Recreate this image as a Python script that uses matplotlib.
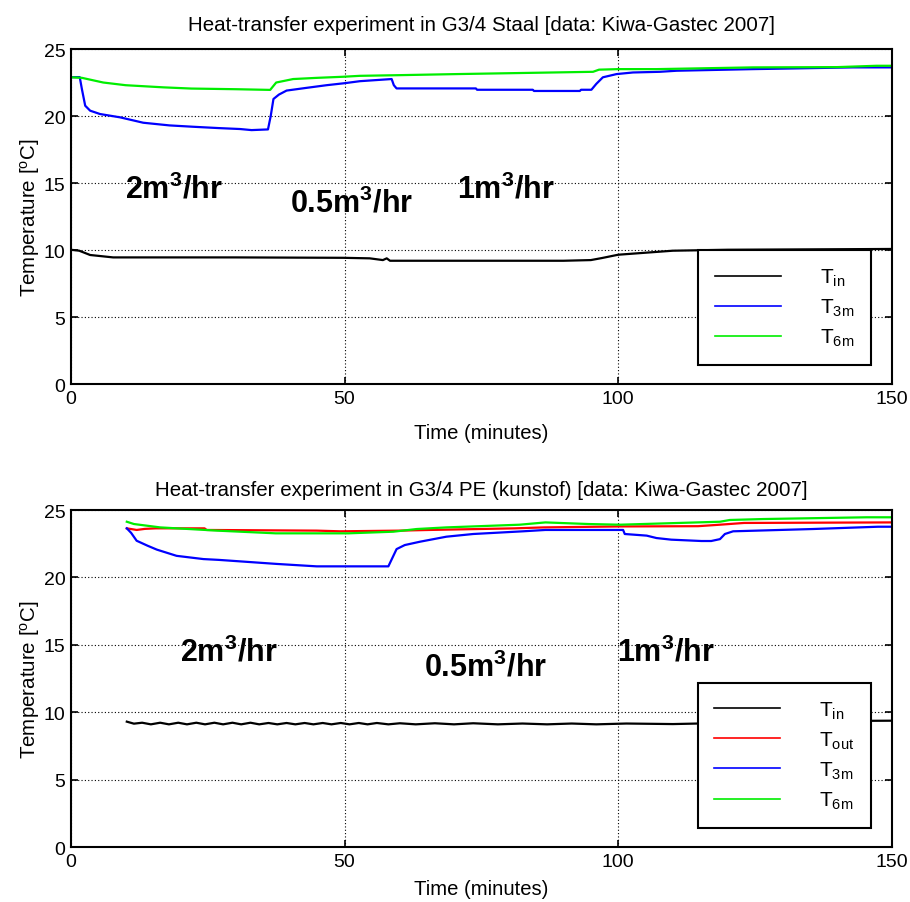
import matplotlib
matplotlib.use("Agg")
import matplotlib.pyplot as plt

plt.rcParams['font.family'] = ['Liberation Sans', 'DejaVu Sans']
plt.rcParams['mathtext.fontset'] = 'custom'
plt.rcParams['mathtext.rm'] = 'Liberation Sans'
plt.rcParams['mathtext.it'] = 'Liberation Sans:italic'
plt.rcParams['mathtext.bf'] = 'Liberation Sans:bold'

# --- top panel: G3/4 Staal ---
steel_tin_x = [0, 1.5, 3.5, 7.7, 15, 30, 49.7, 54.6, 57.0, 57.7, 58.3, 60, 75, 90, 95, 97, 100, 105, 110, 120, 150]
steel_tin_y = [10.02, 9.95, 9.63, 9.45, 9.45, 9.45, 9.42, 9.38, 9.25, 9.38, 9.2, 9.2, 9.2, 9.2, 9.25, 9.4, 9.65, 9.8, 9.95, 10.02, 10.08]

steel_t3_x = [0, 1.6, 2.0, 2.6, 3.5, 5.3, 9, 13.2, 18, 22.3, 27, 30.9, 33, 36, 36.5, 37, 38, 39.4, 43, 46.7, 50,
              52.8, 58.6, 59.0, 59.5, 74.0, 74.2, 84.4, 84.6, 93, 93.2, 95.1, 96, 97.2, 99.7, 102.7, 107.6, 110.7,
              124.6, 132, 142.9, 150]
steel_t3_y = [22.9, 22.9, 22.0, 20.77, 20.4, 20.15, 19.9, 19.5, 19.3, 19.2, 19.1, 19.03, 18.95, 19.0, 20.0, 21.27,
              21.6, 21.9, 22.1, 22.3, 22.45, 22.6, 22.76, 22.3, 22.06, 22.06, 21.96, 21.96, 21.87, 21.87, 21.96, 21.96,
              22.4, 22.89, 23.13, 23.25, 23.3, 23.38, 23.5, 23.55, 23.63, 23.63]

steel_t6_x = [0, 2, 5.9, 10, 16.9, 22, 30.3, 36.4, 37.5, 40.6, 45, 49.7, 52.8, 60, 70.5, 95.4, 96.5, 100, 107,
              124.6, 140, 147.2, 150]
steel_t6_y = [22.89, 22.85, 22.5, 22.3, 22.14, 22.05, 22.0, 21.95, 22.5, 22.76, 22.85, 22.93, 23.0, 23.05, 23.13,
              23.3, 23.46, 23.5, 23.5, 23.63, 23.65, 23.75, 23.75]

# --- bottom panel: G3/4 PE ---
pe_tin_x = [10.2, 11.5, 13.0, 14.6, 16.3, 17.9, 19.6, 21.2, 22.9, 24.5, 26.2, 27.8, 29.5, 31.1, 32.8, 34.4, 36.1,
            37.7, 39.4, 41.0, 42.7, 44.3, 46.0, 47.6, 49.3, 50.9, 52.6, 54.2, 55.9, 58, 60.1, 63, 66.5, 70, 73.5,
            78, 82.5, 87, 91.5, 96, 101.5, 110, 125, 140, 150]
pe_tin_y = [9.3, 9.15, 9.22, 9.1, 9.22, 9.1, 9.22, 9.1, 9.22, 9.1, 9.22, 9.1, 9.22, 9.1, 9.22, 9.1, 9.2, 9.1, 9.2,
            9.1, 9.2, 9.1, 9.2, 9.1, 9.2, 9.1, 9.2, 9.1, 9.2, 9.1, 9.18, 9.1, 9.18, 9.1, 9.18, 9.1, 9.16, 9.1,
            9.16, 9.1, 9.16, 9.12, 9.25, 9.35, 9.37]

pe_tout_x = [10.2, 12, 13.5, 15.5, 24.4, 24.8, 44.9, 49.2, 60.1, 65.5, 81.1, 86.4, 100.3, 114.6, 118.6, 123, 150]
pe_tout_y = [23.64, 23.52, 23.6, 23.64, 23.64, 23.52, 23.47, 23.42, 23.47, 23.52, 23.64, 23.71, 23.78, 23.8,
             23.91, 24.04, 24.08]

pe_t3_x = [10.2, 11, 12, 14, 15.7, 19.3, 24.2, 27, 30.9, 37.6, 44.9, 50, 58, 59.5, 61, 63.8, 68.6, 73.5, 82.6,
           86.7, 100.9, 101.2, 105.2, 107, 109.7, 115.2, 117, 118.6, 119.5, 121, 135.6, 147.5, 150]
pe_t3_y = [23.64, 23.3, 22.72, 22.35, 22.06, 21.6, 21.36, 21.3, 21.19, 21.0, 20.82, 20.82, 20.82, 22.1, 22.4,
           22.65, 23.02, 23.22, 23.42, 23.52, 23.52, 23.22, 23.1, 22.92, 22.8, 22.7, 22.7, 22.84, 23.22, 23.42,
           23.59, 23.76, 23.76]

pe_t6_x = [10.2, 11.5, 16.3, 26.7, 37.4, 50.7, 58.9, 63.2, 68.6, 82, 86.7, 94.6, 100.3, 118.6, 120.4, 126.5,
           145.4, 150]
pe_t6_y = [24.13, 23.96, 23.71, 23.47, 23.27, 23.27, 23.39, 23.59, 23.71, 23.91, 24.08, 23.96, 23.91, 24.13,
           24.26, 24.33, 24.46, 24.46]

# flow-rate labels: (x, y, text)
steel_flow = [(9.9, 13.95, r'2m$^{\mathbf{3}}$/hr'), (40.0, 12.84, r'0.5m$^{\mathbf{3}}$/hr'),
              (70.5, 13.95, r'1m$^{\mathbf{3}}$/hr')]
pe_flow = [(19.9, 13.8, r'2m$^{\mathbf{3}}$/hr'), (64.5, 12.76, r'0.5m$^{\mathbf{3}}$/hr'),
           (99.8, 13.8, r'1m$^{\mathbf{3}}$/hr')]

fig = plt.figure(figsize=(9.1, 9.03), dpi=100)
ax1 = fig.add_axes([0.078, 0.5736, 0.902, 0.371])
ax2 = fig.add_axes([0.078, 0.0609, 0.902, 0.3732])


def style(ax, title, pad, xpad):
    ax.set_xlim(0, 150)
    ax.set_ylim(0, 25)
    ax.set_xticks([0, 50, 100, 150])
    ax.set_yticks([0, 5, 10, 15, 20, 25])
    ax.grid(True, color='black', linestyle=(0, (1, 2)), linewidth=0.8)
    ax.tick_params(direction='in', top=True, right=True, length=5, width=1.2, labelsize=14, pad=4)
    for s in ax.spines.values():
        s.set_linewidth(1.5)
    ax.set_title(title, fontsize=14.8, pad=pad)
    ax.set_xlabel('Time (minutes)', fontsize=14.6, labelpad=xpad)
    ax.set_ylabel(r'Temperature [$^{\mathrm{o}}$C]', fontsize=14.8, labelpad=1)


lw = 1.6
ax1.plot(steel_tin_x, steel_tin_y, color='black', lw=lw, label=r'T$_{\mathrm{in}}$')
ax1.plot(steel_t3_x, steel_t3_y, color='blue', lw=lw, label=r'T$_{\mathrm{3m}}$')
ax1.plot(steel_t6_x, steel_t6_y, color='#00ee00', lw=lw, label=r'T$_{\mathrm{6m}}$')
style(ax1, 'Heat-transfer experiment in G3/4 Staal [data: Kiwa-Gastec 2007]', 14, 12)
for x, y, t in steel_flow:
    ax1.text(x, y, t, fontsize=22, fontweight='bold', ha='left', va='baseline')

ax2.plot(pe_tin_x, pe_tin_y, color='black', lw=lw, label=r'T$_{\mathrm{in}}$')
ax2.plot(pe_tout_x, pe_tout_y, color='red', lw=lw, label=r'T$_{\mathrm{out}}$')
ax2.plot(pe_t3_x, pe_t3_y, color='blue', lw=lw, label=r'T$_{\mathrm{3m}}$')
ax2.plot(pe_t6_x, pe_t6_y, color='#00ee00', lw=lw, label=r'T$_{\mathrm{6m}}$')
style(ax2, 'Heat-transfer experiment in G3/4 PE (kunstof) [data: Kiwa-Gastec 2007]', 11, 7)
for x, y, t in pe_flow:
    ax2.text(x, y, t, fontsize=22, fontweight='bold', ha='left', va='baseline')

for ax in (ax1, ax2):
    leg = ax.legend(loc='lower right', bbox_to_anchor=(0.975, 0.057), borderaxespad=0, fontsize=15,
                    fancybox=False, framealpha=1, edgecolor='black', handlelength=3.15,
                    handletextpad=1.9, labelspacing=0.42, borderpad=0.8)
    leg.get_frame().set_linewidth(1.5)
    for h in leg.get_lines():
        h.set_linewidth(1.2)

fig.savefig('out.png', dpi=100)
